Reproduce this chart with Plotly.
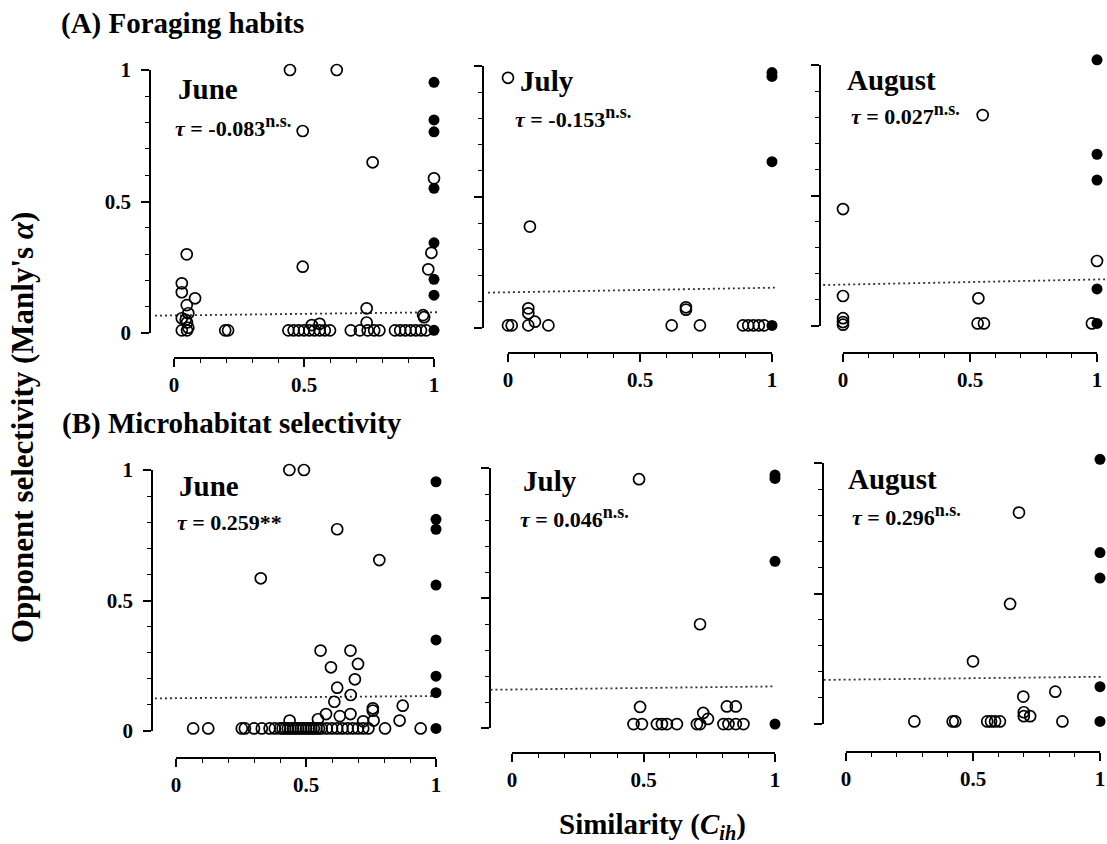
import plotly.graph_objects as go

W, H = 1107, 844

# ---------------- data ----------------
months = ["June", "July", "August"]
tau_A = ["-0.083", "-0.153", "0.027"]
sig_A = ["n.s.", "n.s.", "n.s."]
tau_B = ["0.259", "0.046", "0.296"]
sig_B = ["**", "n.s.", "n.s."]
tick_vals = [0, 0.5, 1]
tick_text = ["0", "0.5", "1"]
minor_vals = [0.1, 0.2, 0.3, 0.4, 0.6, 0.7, 0.8, 0.9]

# (A) Foraging habits - June
A_jun_open_x = [0.446, 0.626, 0.495, 0.764, 1.0, 0.99, 0.978, 0.049, 0.495, 0.03, 0.03, 0.081,
                0.049, 0.03, 0.055, 0.05, 0.055, 0.045, 0.03, 0.05, 0.197, 0.208, 0.741, 0.741,
                0.958, 0.962, 0.44, 0.46, 0.48, 0.50, 0.52, 0.54, 0.56, 0.58, 0.60, 0.53, 0.56,
                0.68, 0.715, 0.745, 0.77, 0.79, 0.85, 0.87, 0.89, 0.91, 0.93, 0.95, 0.97]
A_jun_open_y = [1.0, 1.0, 0.768, 0.649, 0.588, 0.305, 0.242, 0.299, 0.252, 0.189, 0.155, 0.132,
                0.106, 0.056, 0.075, 0.04, 0.02, 0.05, 0.01, 0.01, 0.01, 0.01, 0.094, 0.04,
                0.068, 0.06, 0.01, 0.01, 0.01, 0.01, 0.01, 0.01, 0.01, 0.01, 0.01, 0.03, 0.035,
                0.01, 0.01, 0.01, 0.01, 0.01, 0.01, 0.01, 0.01, 0.01, 0.01, 0.01, 0.01]
A_jun_fill_x = [1.0, 1.0, 1.0, 1.0, 1.0, 1.0, 1.0, 1.0]
A_jun_fill_y = [0.953, 0.81, 0.765, 0.55, 0.343, 0.204, 0.144, 0.01]
A_jun_fit_x = [-0.073, 1.02]
A_jun_fit_y = [0.066, 0.079]

# (A) July
A_jul_open_x = [0.0, 0.083, 0.077, 0.077, 0.077, 0.102, 0.153, 0.0, 0.014, 0.62, 0.674, 0.674,
                0.727, 0.89, 0.91, 0.93, 0.95, 0.97]
A_jul_open_y = [0.955, 0.387, 0.075, 0.056, 0.01, 0.024, 0.01, 0.01, 0.01, 0.01, 0.079, 0.07,
                0.01, 0.01, 0.01, 0.01, 0.01, 0.01]
A_jul_fill_x = [1.0, 1.0, 1.0, 1.0]
A_jul_fill_y = [0.975, 0.96, 0.635, 0.01]
A_jul_fit_x = [-0.076, 1.018]
A_jul_fit_y = [0.135, 0.154]

# (A) August
A_aug_open_x = [0.55, 0.0, 1.0, 0.0, 0.533, 0.0, 0.0, 0.0, 0.53, 0.555, 0.98]
A_aug_open_y = [0.808, 0.448, 0.249, 0.115, 0.106, 0.03, 0.015, 0.005, 0.01, 0.01, 0.01]
A_aug_fill_x = [1.0, 1.0, 1.0, 1.0, 1.0]
A_aug_fill_y = [1.02, 0.658, 0.559, 0.142, 0.01]
A_aug_fit_x = [-0.078, 1.038]
A_aug_fit_y = [0.157, 0.179]

# (B) Microhabitat selectivity - June
B_jun_open_x = [0.436, 0.492, 0.62, 0.782, 0.326, 0.556, 0.671, 0.596, 0.70, 0.688, 0.62, 0.672,
                0.609, 0.872, 0.757, 0.757, 0.577, 0.63, 0.671, 0.546, 0.437, 0.86, 0.76, 0.72,
                0.066, 0.124, 0.253, 0.265, 0.30, 0.33, 0.36, 0.38, 0.40, 0.41, 0.42, 0.43, 0.44,
                0.45, 0.46, 0.47, 0.48, 0.49, 0.50, 0.51, 0.52, 0.53, 0.54, 0.55, 0.56, 0.58,
                0.60, 0.62, 0.64, 0.66, 0.68, 0.70, 0.72, 0.74, 0.804, 0.941]
B_jun_open_y = [1.0, 1.0, 0.773, 0.655, 0.585, 0.308, 0.308, 0.244, 0.257, 0.198, 0.166, 0.138,
                0.112, 0.097, 0.087, 0.078, 0.065, 0.057, 0.065, 0.045, 0.04, 0.04, 0.04, 0.037,
                0.01, 0.01, 0.01, 0.01, 0.01, 0.01, 0.01, 0.01, 0.01, 0.01, 0.01, 0.01, 0.01,
                0.01, 0.01, 0.01, 0.01, 0.01, 0.01, 0.01, 0.01, 0.01, 0.01, 0.01, 0.01, 0.01,
                0.01, 0.01, 0.01, 0.01, 0.01, 0.01, 0.01, 0.01, 0.01, 0.01]
B_jun_fill_x = [1.0, 1.0, 1.0, 1.0, 1.0, 1.0, 1.0, 1.0]
B_jun_fill_y = [0.955, 0.811, 0.773, 0.559, 0.349, 0.21, 0.147, 0.01]
B_jun_fit_x = [-0.081, 0.99]
B_jun_fit_y = [0.125, 0.134]

# (B) July
B_jul_open_x = [0.483, 0.715, 0.487, 0.727, 0.745, 0.817, 0.851, 0.462, 0.494, 0.551, 0.57,
                0.589, 0.627, 0.703, 0.715, 0.804, 0.823, 0.851, 0.88]
B_jul_open_y = [0.957, 0.399, 0.081, 0.058, 0.035, 0.083, 0.083, 0.015, 0.015, 0.015, 0.015,
                0.015, 0.015, 0.015, 0.015, 0.015, 0.015, 0.015, 0.015]
B_jul_fill_x = [1.0, 1.0, 1.0, 1.0]
B_jul_fill_y = [0.973, 0.96, 0.641, 0.015]
B_jul_fit_x = [-0.082, 1.0]
B_jul_fit_y = [0.147, 0.16]

# (B) August
B_aug_open_x = [0.681, 0.646, 0.5, 0.824, 0.698, 0.70, 0.725, 0.70, 0.269, 0.42, 0.43, 0.556,
                0.571, 0.587, 0.606, 0.852]
B_aug_open_y = [0.81, 0.46, 0.24, 0.124, 0.105, 0.045, 0.03, 0.03, 0.01, 0.01, 0.01, 0.01,
                0.01, 0.01, 0.01, 0.01]
B_aug_fill_x = [1.0, 1.0, 1.0, 1.0, 1.0]
B_aug_fill_y = [1.014, 0.657, 0.559, 0.143, 0.01]
B_aug_fit_x = [-0.088, 1.01]
B_aug_fit_y = [0.169, 0.181]

# ---------------- layout geometry (pixels) ----------------
geom = [
    dict(yline=150, y0=333, y1=70, xline=358, x0=174, x1=434, lab=(176, 89), tau=(173, 126)),
    dict(yline=483, y0=328, y1=66, xline=353, x0=508, x1=772, lab=(518, 81), tau=(513, 117)),
    dict(yline=820, y0=326, y1=65, xline=353, x0=843, x1=1097, lab=(845, 80), tau=(849, 114)),
    dict(yline=152, y0=731, y1=470, xline=758, x0=176, x1=436, lab=(177, 486), tau=(175, 522)),
    dict(yline=490, y0=728, y1=468, xline=753, x0=512, x1=775, lab=(521, 481), tau=(518, 517)),
    dict(yline=823, y0=724, y1=463, xline=752, x0=846, x1=1100, lab=(846, 479), tau=(850, 515)),
]

series = [
    (A_jun_open_x, A_jun_open_y, A_jun_fill_x, A_jun_fill_y, A_jun_fit_x, A_jun_fit_y, months[0], tau_A[0], sig_A[0]),
    (A_jul_open_x, A_jul_open_y, A_jul_fill_x, A_jul_fill_y, A_jul_fit_x, A_jul_fit_y, months[1], tau_A[1], sig_A[1]),
    (A_aug_open_x, A_aug_open_y, A_aug_fill_x, A_aug_fill_y, A_aug_fit_x, A_aug_fit_y, months[2], tau_A[2], sig_A[2]),
    (B_jun_open_x, B_jun_open_y, B_jun_fill_x, B_jun_fill_y, B_jun_fit_x, B_jun_fit_y, months[0], tau_B[0], sig_B[0]),
    (B_jul_open_x, B_jul_open_y, B_jul_fill_x, B_jul_fill_y, B_jul_fit_x, B_jul_fit_y, months[1], tau_B[1], sig_B[1]),
    (B_aug_open_x, B_aug_open_y, B_aug_fill_x, B_aug_fill_y, B_aug_fit_x, B_aug_fit_y, months[2], tau_B[2], sig_B[2]),
]

SERIF = "Liberation Serif"
tickfont = dict(family=SERIF, size=21, color="black", weight="bold")

fig = go.Figure()
layout = dict(
    template="none",
    width=W, height=H, autosize=False,
    margin=dict(l=0, r=0, t=0, b=0, pad=0, autoexpand=False),
    plot_bgcolor="rgba(0,0,0,0)", paper_bgcolor="white", showlegend=False,
)
annotations = []

for i, (g, s) in enumerate(zip(geom, series)):
    k = i + 1
    ox, oy, fx, fy, lx, ly, month, tau, sig = s
    xn = "x" if k == 1 else f"x{k}"
    yn = "y" if k == 1 else f"y{k}"
    hx = f"x{k + 6}"
    hy = f"y{k + 6}"

    # visible (decorative) axes spanning exactly 0..1
    layout["xaxis" if k == 1 else f"xaxis{k}"] = dict(
        domain=[g["x0"] / W, g["x1"] / W], range=[0, 1], anchor="free",
        position=1 - g["xline"] / H, automargin=False, ticklabeloverflow="allow",
        showline=True, linecolor="black", linewidth=1.6, mirror=False,
        ticks="outside", ticklen=8, tickwidth=1.6, tickcolor="black",
        tickvals=tick_vals, ticktext=tick_text, tickfont=tickfont,
        minor=dict(tickvals=minor_vals, ticks="outside", ticklen=4, tickwidth=1.3,
                   tickcolor="black", showgrid=False),
        showgrid=False, zeroline=False, fixedrange=True,
    )
    layout["yaxis" if k == 1 else f"yaxis{k}"] = dict(
        domain=[1 - g["y0"] / H, 1 - g["y1"] / H], range=[0, 1], anchor="free",
        position=g["yline"] / W, automargin=False, ticklabeloverflow="allow",
        showline=True, linecolor="black", linewidth=1.6,
        ticks="outside", ticklen=8, tickwidth=1.6, tickcolor="black",
        tickvals=tick_vals, ticktext=tick_text, tickfont=tickfont,
        showticklabels=(k in (1, 4)), ticklabelstandoff=6,
        minor=dict(tickvals=minor_vals, ticks="outside", ticklen=4, tickwidth=1.3,
                   tickcolor="black", showgrid=False),
        showgrid=False, zeroline=False, fixedrange=True,
    )
    # hidden data axes: same scale, wider span (so marks beyond 0..1 stay visible)
    xspan = g["x1"] - g["x0"]
    xs, xe = g["yline"], min(W, g["x1"] + 30)
    layout[f"xaxis{k + 6}"] = dict(
        domain=[xs / W, xe / W],
        range=[(xs - g["x0"]) / xspan, (xe - g["x0"]) / xspan],
        anchor=hy, visible=False, fixedrange=True, automargin=False,
    )
    yspan = g["y0"] - g["y1"]
    yt, yb = g["y1"] - 25, g["y0"] + 15
    layout[f"yaxis{k + 6}"] = dict(
        domain=[1 - yb / H, 1 - yt / H],
        range=[(g["y0"] - yb) / yspan, (g["y0"] - yt) / yspan],
        anchor=hx, visible=False, fixedrange=True, automargin=False,
    )

    # empty trace so the decorative subplot is created
    fig.add_trace(go.Scatter(x=[], y=[], xaxis=xn, yaxis=yn, hoverinfo="skip"))
    fig.add_trace(go.Scatter(
        x=lx, y=ly, mode="lines", xaxis=hx, yaxis=hy, hoverinfo="skip",
        line=dict(color="#333333", width=1.8, dash="2px,3px"),
    ))
    fig.add_trace(go.Scatter(
        x=ox, y=oy, mode="markers", xaxis=hx, yaxis=hy, cliponaxis=False, hoverinfo="skip",
        marker=dict(symbol="circle-open", size=11, color="black", line=dict(width=1.7)),
    ))
    fig.add_trace(go.Scatter(
        x=fx, y=fy, mode="markers", xaxis=hx, yaxis=hy, cliponaxis=False, hoverinfo="skip",
        marker=dict(symbol="circle", size=11, color="black"),
    ))

    annotations.append(dict(
        text=f"<b>{month}</b>", xref="paper", yref="paper",
        x=g["lab"][0] / W, y=1 - g["lab"][1] / H, xanchor="left", yanchor="middle",
        showarrow=False, font=dict(family=SERIF, size=29, color="black"),
    ))
    if sig.startswith("n"):
        sig_txt = f"<sup><span style='font-size:18px'>{sig}</span></sup>"
    else:
        sig_txt = sig
    annotations.append(dict(
        text=f"<b><i>τ</i> = {tau}{sig_txt}</b>", xref="paper", yref="paper",
        x=g["tau"][0] / W, y=1 - g["tau"][1] / H, xanchor="left", yanchor="middle",
        showarrow=False, font=dict(family=SERIF, size=22, color="black"),
    ))

annotations += [
    dict(text="<b>(A) Foraging habits</b>", xref="paper", yref="paper",
         x=59 / W, y=1 - 23 / H, xanchor="left", yanchor="middle", showarrow=False,
         font=dict(family=SERIF, size=29, color="black")),
    dict(text="<b>(B) Microhabitat selectivity</b>", xref="paper", yref="paper",
         x=60 / W, y=1 - 423 / H, xanchor="left", yanchor="middle", showarrow=False,
         font=dict(family=SERIF, size=29, color="black")),
    dict(text="<b>Opponent selectivity (Manly's <i>α</i>)</b>", xref="paper", yref="paper",
         x=22 / W, y=1 - 428 / H, xanchor="center", yanchor="middle", textangle=-90,
         showarrow=False, font=dict(family=SERIF, size=31, color="black")),
    dict(text="<b>Similarity (<i>C<sub>ih</sub></i>)</b>", xref="paper", yref="paper",
         x=652 / W, y=1 - 826 / H, xanchor="center", yanchor="middle",
         showarrow=False, font=dict(family=SERIF, size=29, color="black")),
]
layout["annotations"] = annotations
fig.update_layout(**layout)

fig.write_html("out.html", config={"displayModeBar": False},
               post_script="document.body.style.margin='0px';")
